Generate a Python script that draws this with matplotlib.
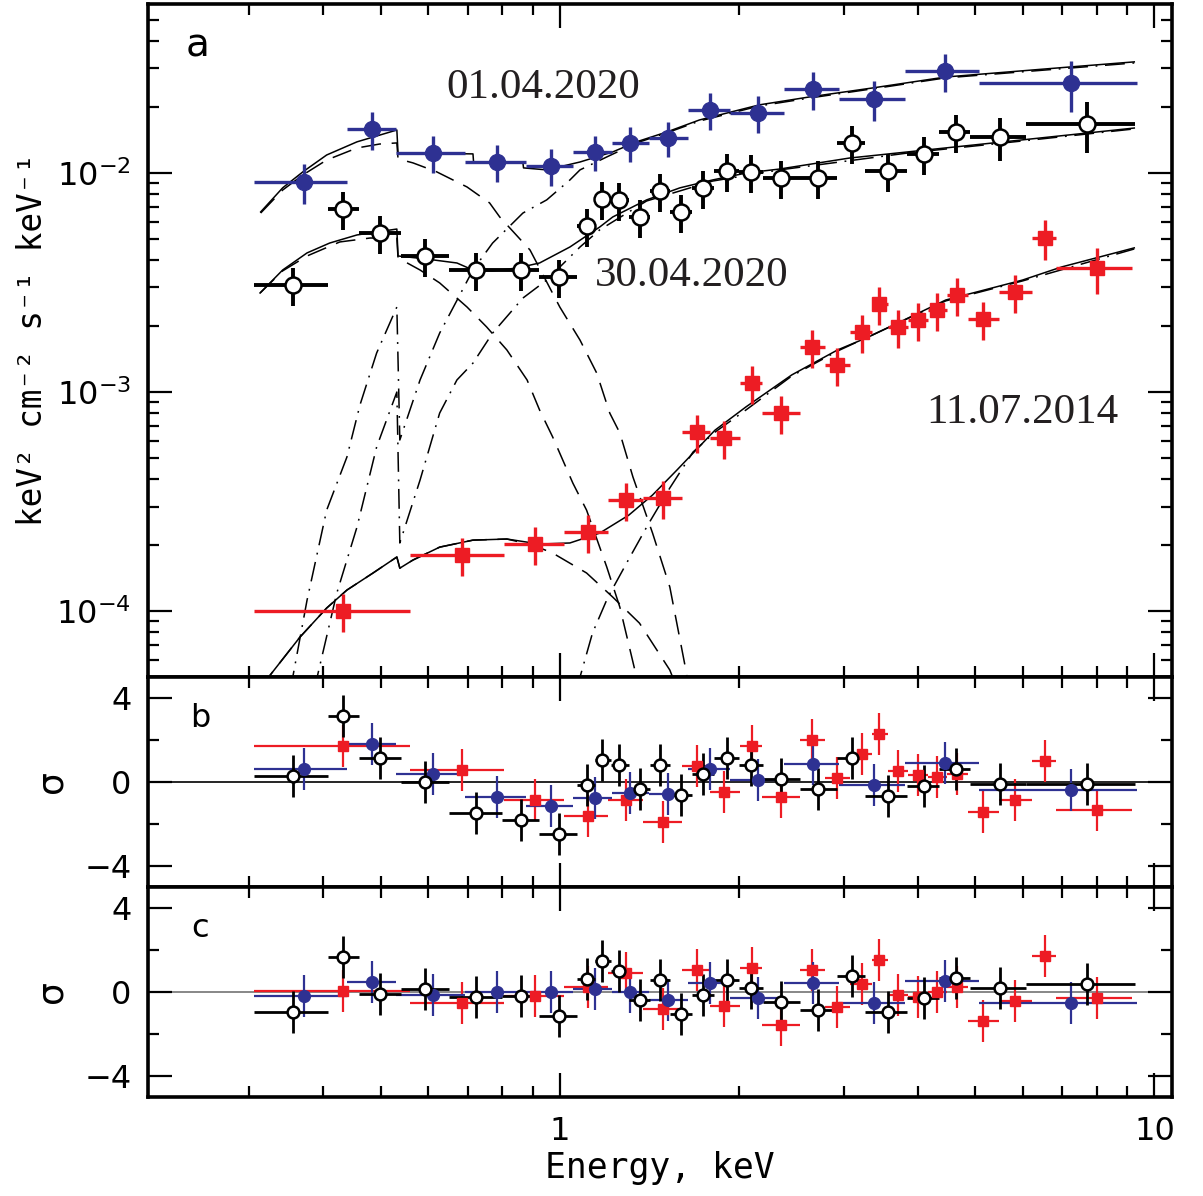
import numpy as np
import matplotlib
matplotlib.use('Agg')
import matplotlib.pyplot as plt
from matplotlib.ticker import FixedLocator, NullFormatter

BLUE = '#2E3192'
RED = '#ED1C24'
TXT = '#231F20'

# ---- unfolded spectra: energy (keV), bin edges (keV), flux (keV^2 cm^-2 s^-1 keV^-1) ----
blue_E = [0.371, 0.483, 0.612, 0.784, 0.966, 1.145, 1.311, 1.519, 1.787, 2.152, 2.662, 3.372, 4.437, 7.224]
blue_edges = [0.306, 0.4385, 0.530, 0.692, 0.877, 1.052, 1.223, 1.411, 1.641, 1.931, 2.379, 2.944,
              3.801, 5.061, 9.363]
blue_F = [9.10e-3, 1.588e-2, 1.234e-2, 1.123e-2, 1.076e-2, 1.247e-2, 1.371e-2, 1.445e-2, 1.940e-2,
          1.879e-2, 2.418e-2, 2.177e-2, 2.922e-2, 2.576e-2]
blue_ferr = [0.21, 0.2, 0.19, 0.19, 0.19, 0.18, 0.18, 0.18, 0.19, 0.19, 0.2, 0.21, 0.2, 0.26]

black_E = [0.356, 0.432, 0.498, 0.593, 0.722, 0.860, 0.996, 1.110, 1.176, 1.257, 1.363, 1.473, 1.597,
           1.739, 1.909, 2.094, 2.351, 2.714, 3.096, 3.558, 4.090, 4.629, 5.489, 7.687]
black_edges = [0.306, 0.407, 0.4595, 0.540, 0.651, 0.799, 0.922, 1.068, 1.145, 1.218, 1.306, 1.417,
               1.530, 1.667, 1.815, 2.000, 2.194, 2.532, 2.921, 3.255, 3.831, 4.335, 4.888, 6.070, 9.256]
black_F = [3.08e-3, 6.85e-3, 5.32e-3, 4.18e-3, 3.61e-3, 3.61e-3, 3.35e-3, 5.73e-3, 7.61e-3, 7.53e-3,
           6.30e-3, 8.28e-3, 6.64e-3, 8.54e-3, 1.021e-2, 1.011e-2, 9.49e-3, 9.49e-3, 1.371e-2,
           1.021e-2, 1.221e-2, 1.539e-2, 1.460e-2, 1.674e-2]
black_ferr = [0.2] * 22 + [0.22, 0.26]

red_E = [0.432, 0.684, 0.908, 1.115, 1.291, 1.490, 1.699, 1.886, 2.102, 2.351, 2.651, 2.921, 3.218,
         3.437, 3.699, 3.997, 4.301, 4.648, 5.139, 5.818, 6.535, 7.990]
red_edges = [0.306, 0.560, 0.805, 1.016, 1.204, 1.379, 1.603, 1.787, 2.007, 2.185, 2.532, 2.789,
             3.072, 3.345, 3.558, 3.846, 4.154, 4.471, 4.850, 5.468, 6.212, 6.818, 9.183]
red_F = [1.00e-4, 1.80e-4, 2.02e-4, 2.30e-4, 3.21e-4, 3.28e-4, 6.57e-4, 6.17e-4, 1.099e-3, 8.02e-4,
         1.605e-3, 1.328e-3, 1.879e-3, 2.522e-3, 1.980e-3, 2.132e-3, 2.368e-3, 2.773e-3, 2.154e-3,
         2.861e-3, 5.049e-3, 3.683e-3]
red_ferr = [0.2] * 20 + [0.21, 0.24]

# ---- residuals (sigma), panel b and panel c ----
blue_res_b = [0.63, 1.82, 0.36, -0.71, -1.15, -0.76, -0.55, -0.58, 0.63, 0.11, 0.87, -0.13, 0.90, -0.36]
black_res_b = [0.27, 3.16, 1.14, -0.02, -1.47, -1.82, -2.48, -0.16, 1.06, 0.79, -0.32, 0.79, -0.63,
               0.40, 1.15, 0.82, 0.16, -0.32, 1.15, -0.68, -0.21, 0.63, -0.08, -0.11]
red_res_b = [1.69, 0.55, -0.87, -1.61, -0.87, -1.90, 0.74, -0.47, 1.69, -0.74, 1.98, 0.21, 1.34,
             2.26, 0.52, 0.32, 0.24, 0.40, -1.42, -0.84, 1.00, -1.34]

blue_res_c = [-0.21, 0.47, -0.16, 0.0, 0.0, 0.16, 0.0, -0.40, 0.43, -0.27, 0.43, -0.52, 0.52, -0.52]
black_res_c = [-0.95, 1.66, -0.08, 0.16, -0.24, -0.21, -1.15, 0.60, 1.47, 1.0, -0.36, 0.55, -1.03,
               -0.16, 0.58, 0.21, -0.47, -0.87, 0.76, -0.95, -0.27, 0.68, 0.21, 0.40]
red_res_c = [0.05, -0.52, -0.21, 0.24, 0.90, -0.79, 1.03, -0.68, 1.15, -1.58, 1.03, -0.71, 0.40,
             1.50, -0.16, -0.24, 0.0, 0.24, -1.38, -0.43, 1.69, -0.27]

blue_tot_lx = [-0.503, -0.466, -0.432, -0.392, -0.341, -0.274, -0.272, -0.146, -0.145, -0.062, -0.061,
               -0.022, 0.034, 0.089, 0.129, 0.180, 0.235, 0.336, 0.420, 0.526, 0.649, 0.859, 0.966]
blue_tot_ly = [-2.178, -2.068, -1.995, -1.918, -1.858, -1.804, -1.909, -1.913, -1.950, -1.954, -1.977,
               -1.986, -1.950, -1.904, -1.858, -1.813, -1.758, -1.689, -1.653, -1.612, -1.562, -1.516, -1.493]
blue_soft_lx = [-0.503, -0.466, -0.432, -0.392, -0.341, -0.303, -0.274, -0.272, -0.247, -0.207, -0.156,
                -0.118, -0.101, -0.050, 0.0, 0.034, 0.062, 0.084, 0.101, 0.123, 0.156, 0.185, 0.213, 0.218]
blue_soft_ly = [-2.183, -2.078, -2.009, -1.941, -1.886, -1.868, -1.863, -1.936, -1.954, -1.995, -2.064,
                -2.137, -2.201, -2.352, -2.612, -2.763, -2.913, -3.096, -3.187, -3.388, -3.644, -3.890,
                -4.283, -4.406]
blue_hard_lx = [-0.454, -0.449, -0.425, -0.392, -0.358, -0.336, -0.308, -0.274, -0.269, -0.235, -0.202,
                -0.146, -0.113, -0.062, -0.022, 0.017, 0.034, 0.079, 0.129, 0.180, 0.235, 0.336, 0.420,
                0.526, 0.649, 0.859, 0.966]
blue_hard_ly = [-4.361, -4.301, -3.950, -3.539, -3.297, -3.059, -2.822, -2.612, -3.219, -2.945, -2.731,
                -2.443, -2.320, -2.183, -2.123, -2.032, -1.986, -1.927, -1.863, -1.817, -1.763, -1.694,
                -1.658, -1.616, -1.566, -1.521, -1.498]

black_tot_lx = [-0.504, -0.466, -0.425, -0.387, -0.341, -0.274, -0.272, -0.224, -0.173, -0.146, -0.113,
                -0.072, -0.034, 0.017, 0.067, 0.089, 0.146, 0.202, 0.257, 0.314, 0.370, 0.487, 0.585,
                0.778, 0.966]
black_tot_ly = [-2.548, -2.443, -2.365, -2.320, -2.283, -2.256, -2.379, -2.393, -2.411, -2.443, -2.447,
                -2.434, -2.411, -2.338, -2.247, -2.201, -2.123, -2.068, -2.032, -2.000, -1.982, -1.932,
                -1.904, -1.849, -1.795]
black_soft_lx = [-0.504, -0.466, -0.425, -0.370, -0.319, -0.274, -0.272, -0.235, -0.202, -0.156, -0.123,
                 -0.089, -0.055, -0.034, -0.012, 0.022, 0.045, 0.079, 0.101, 0.129, 0.134]
black_soft_ly = [-2.548, -2.447, -2.379, -2.315, -2.297, -2.297, -2.388, -2.443, -2.502, -2.612, -2.703,
                 -2.808, -2.945, -3.082, -3.205, -3.416, -3.539, -3.799, -3.982, -4.301, -4.361]
black_hard_lx = [-0.413, -0.408, -0.375, -0.341, -0.308, -0.274, -0.269, -0.235, -0.202, -0.173, -0.146,
                 -0.113, -0.062, -0.022, 0.034, 0.067, 0.146, 0.257, 0.370, 0.585, 0.778, 0.966]
black_hard_ly = [-4.361, -4.301, -3.918, -3.616, -3.251, -3.000, -3.689, -3.402, -3.096, -2.945, -2.868,
                 -2.731, -2.571, -2.489, -2.338, -2.260, -2.128, -2.037, -1.986, -1.909, -1.854, -1.799]

red_tot_lx = [-0.494, -0.487, -0.437, -0.392, -0.358, -0.314, -0.274, -0.269, -0.247, -0.202, -0.146,
              -0.089, -0.034, 0.017, 0.067, 0.116, 0.156, 0.197, 0.261, 0.313, 0.390, 0.467, 0.519,
              0.649, 0.778, 0.844, 0.966]
red_tot_ly = [-4.361, -4.292, -4.119, -3.986, -3.904, -3.826, -3.753, -3.804, -3.767, -3.708, -3.676,
              -3.671, -3.694, -3.689, -3.644, -3.562, -3.470, -3.356, -3.174, -3.068, -2.922, -2.808,
              -2.749, -2.580, -2.489, -2.429, -2.342]
red_soft_lx = [-0.494, -0.487, -0.437, -0.392, -0.358, -0.314, -0.274, -0.269, -0.247, -0.202, -0.146,
               -0.089, -0.045, -0.012, 0.045, 0.089, 0.134, 0.185, 0.195]
red_soft_ly = [-4.361, -4.292, -4.119, -3.986, -3.904, -3.826, -3.753, -3.804, -3.767, -3.708, -3.676,
               -3.671, -3.699, -3.735, -3.826, -3.936, -4.055, -4.269, -4.338]
red_hard_lx = [0.030, 0.034, 0.055, 0.081, 0.118, 0.148, 0.185, 0.224, 0.261, 0.313, 0.390, 0.467,
               0.649, 0.778, 0.966]
red_hard_ly = [-4.361, -4.301, -4.100, -3.936, -3.753, -3.607, -3.438, -3.274, -3.183, -3.082, -2.927,
               -2.813, -2.584, -2.493, -2.347]

dates = ['01.04.2020', '30.04.2020', '11.07.2014']

plt.rcParams['font.family'] = 'DejaVu Sans'
plt.rcParams['mathtext.fontset'] = 'dejavusans'

fig = plt.figure(figsize=(12.03, 11.96), dpi=100)
axa = fig.add_axes([0.1230, 0.4339, 0.8512, 0.5627])
axb = fig.add_axes([0.1230, 0.2584, 0.8512, 0.1756], sharex=axa)
axc = fig.add_axes([0.1230, 0.0828, 0.8512, 0.1756], sharex=axa)

DASH = (0, (13, 7))
DASHDOT = (0, (13, 5, 1.2, 5))


def bins(E, edges):
    E = np.array(E)
    edges = np.array(edges)
    return E, [E - edges[:-1], edges[1:] - E]


def draw_set(ax, E, edges, y, yerr, kind, small=False):
    x, xerr = bins(E, edges)
    ms = 8.5 if small else 11.5
    lw = 1.6 if small else 2.4
    if kind == 'blue':
        st = dict(fmt='o', color=BLUE, mfc=BLUE, mec=BLUE, ecolor=BLUE)
    elif kind == 'red':
        st = dict(fmt='s', color=RED, mfc=RED, mec=RED, ecolor=RED)
        ms = ms - 1
    else:
        st = dict(fmt='o', color='k', mfc='white', mec='k', ecolor='k', mew=1.8)
        lw = lw + 0.4
    ax.errorbar(x, y, xerr=xerr, yerr=yerr, ms=ms, elinewidth=lw, capsize=0, zorder=4, **st)


def model(ax, lx, ly, ls):
    ax.plot(10 ** np.array(lx), 10 ** np.array(ly), color='k', lw=1.1, ls=ls, zorder=3)


# ---- panel a ----
for lx, ly in [(blue_soft_lx, blue_soft_ly), (black_soft_lx, black_soft_ly), (red_soft_lx, red_soft_ly)]:
    model(axa, lx, ly, DASH)
for lx, ly in [(blue_hard_lx, blue_hard_ly), (black_hard_lx, black_hard_ly), (red_hard_lx, red_hard_ly)]:
    model(axa, lx, ly, DASHDOT)
for lx, ly in [(blue_tot_lx, blue_tot_ly), (black_tot_lx, black_tot_ly), (red_tot_lx, red_tot_ly)]:
    model(axa, lx, ly, '-')

draw_set(axa, red_E, red_edges, red_F, np.array(red_F) * np.array(red_ferr), 'red')
draw_set(axa, black_E, black_edges, black_F, np.array(black_F) * np.array(black_ferr), 'black')
draw_set(axa, blue_E, blue_edges, blue_F, np.array(blue_F) * np.array(blue_ferr), 'blue')

axa.set_yscale('log')
axa.set_ylim(5.0e-5, 0.059)
axa.set_yticks([1e-4, 1e-3, 1e-2])
axa.set_yticklabels([r'$10^{-4}$', r'$10^{-3}$', r'$10^{-2}$'])
axa.yaxis.set_minor_formatter(NullFormatter())

dfont = dict(family='Liberation Serif', fontsize=31, color=TXT, ha='center', va='center')
axa.text(0.386, 0.875, dates[0], transform=axa.transAxes, **dfont)
axa.text(0.531, 0.597, dates[1], transform=axa.transAxes, **dfont)
axa.text(0.854, 0.392, dates[2], transform=axa.transAxes, **dfont)
axa.text(0.048, 0.939, 'a', transform=axa.transAxes, fontsize=28, ha='center', va='center')

# ---- residual panels ----
for ax, rb, rk, rr, lab, zc in [(axb, blue_res_b, black_res_b, red_res_b, 'b', 'k'),
                                (axc, blue_res_c, black_res_c, red_res_c, 'c', '0.45')]:
    ax.axhline(0, color=zc, lw=1.2, zorder=1)
    draw_set(ax, red_E, red_edges, rr, 1.0, 'red', small=True)
    draw_set(ax, blue_E, blue_edges, rb, 1.0, 'blue', small=True)
    draw_set(ax, black_E, black_edges, rk, 1.0, 'black', small=True)
    ax.set_ylim(-5, 5)
    ax.set_yticks([-4, 0, 4])
    ax.set_yticklabels(['\u22124', '0', '4'])
    ax.yaxis.set_minor_locator(FixedLocator([-2, 2]))
    ax.text(0.051, 0.80, lab, transform=ax.transAxes, fontsize=23, ha='center', va='center')
    fig.text(52 / 1203, ax.get_position().y0 + ax.get_position().height / 2, '\u03c3',
             rotation=90, fontsize=26, ha='center', va='center')

axc.set_xscale('log')
axc.set_xlim(0.203, 10.7)
for ax in (axa, axb, axc):
    ax.xaxis.set_major_locator(FixedLocator([1, 10]))
    ax.xaxis.set_minor_locator(FixedLocator([0.3, 0.4, 0.5, 0.6, 0.7, 0.8, 0.9,
                                             2, 3, 4, 5, 6, 7, 8, 9]))
    ax.xaxis.set_minor_formatter(NullFormatter())
    ax.tick_params(which='both', direction='in', top=True, right=True, labelsize=23, width=1.6)
    ax.tick_params(which='major', length=17, pad=12)
    ax.tick_params(which='minor', length=8)
    for s in ax.spines.values():
        s.set_linewidth(2.6)
axa.tick_params(axis='x', labelbottom=False)
axb.tick_params(axis='x', labelbottom=False)
axc.set_xticklabels(['1', '10'])
axc.tick_params(axis='x', pad=14)

fig.text(660 / 1203, 1 - 1168 / 1196, 'Energy, keV', family='DejaVu Sans Mono', fontsize=25,
         ha='center', va='center')
fig.text(33 / 1203, 1 - 340 / 1196, 'keV\u00b2 cm\u207b\u00b2 s\u207b\u00b9 keV\u207b\u00b9',
         family='DejaVu Sans Mono', fontsize=23.5, rotation=90, ha='center', va='center')

fig.savefig('out.png', dpi=100)
